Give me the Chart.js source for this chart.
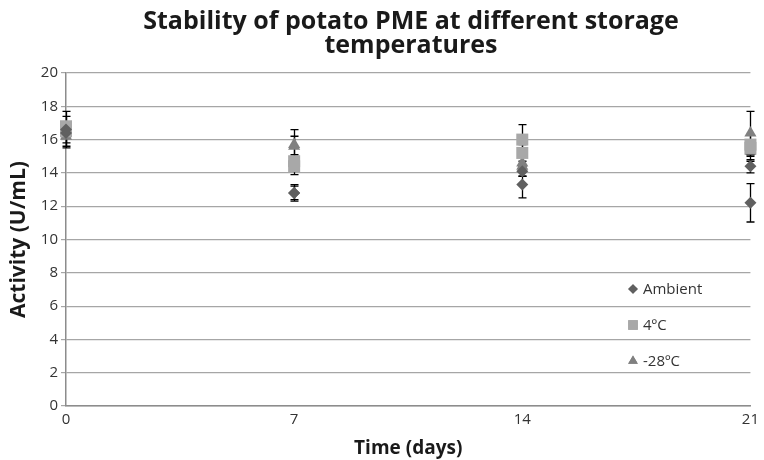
<!DOCTYPE html>
<html>
<head>
<meta charset="utf-8">
<script src="https://cdn.jsdelivr.net/npm/chart.js@4.4.0/dist/chart.umd.min.js"></script>
<style>
  html, body { margin: 0; padding: 0; background: #fff; }
  #wrap { width: 764px; height: 460px; }
</style>
</head>
<body>
<div id="wrap"><canvas id="chart" width="764" height="460"></canvas></div>
<script>
// Days of storage
const days = [0, 7, 14, 21];

// Two replicate series per storage temperature, with error (+/-)
const ambientA = [16.4, 12.8, 13.3, 12.2];
const ambientErrA = [0.6, 0.5, 0.8, 1.15];
const ambientB = [16.6, 12.8, 14.1, 14.4];
const ambientErrB = [0.4, 0.4, 0.3, 0.4];

const fridgeA = [16.8, 14.4, 16.0, 15.7];
const fridgeErrA = [0.6, 0.5, 0.9, 0.6];
const fridgeB = [16.5, 14.7, 15.2, 15.5];
const fridgeErrB = [0.4, 0.4, 0.5, 0.5];

const freezerA = [16.6, 15.7, 14.4, 16.4];
const freezerErrA = [1.1, 0.9, 0.6, 1.3];
const freezerB = [16.2, 15.6, 14.6, 15.3];
const freezerErrB = [0.6, 0.6, 0.5, 0.6];

const yTicks = [0, 2, 4, 6, 8, 10, 12, 14, 16, 18, 20];

const FONT = "'Open Sans', 'DejaVu Sans', sans-serif";

function pts(vals, errs) {
    return days.map((d, i) => ({ x: d, y: vals[i], err: errs[i] }));
}

function makeSet(label, vals, errs, style, color, radius, inLegend) {
    return {
        label: label,
        data: pts(vals, errs),
        showLine: false,
        pointStyle: style,
        pointRadius: radius,
        pointHoverRadius: radius,
        pointBackgroundColor: color,
        pointBorderColor: color,
        pointBorderWidth: 0,
        clip: false,
        inLegend: inLegend
    };
}

const datasets = [
    makeSet('Ambient', ambientA, ambientErrA, 'rectRot', '#606060', 6, true),
    makeSet('Ambient', ambientB, ambientErrB, 'rectRot', '#606060', 6, false),
    makeSet('4ºC', fridgeA, fridgeErrA, 'rect', '#a8a8a8', 8.5, true),
    makeSet('4ºC', fridgeB, fridgeErrB, 'rect', '#a8a8a8', 8.5, false),
    makeSet('-28ºC', freezerA, freezerErrA, 'triangle', '#808080', 7, true),
    makeSet('-28ºC', freezerB, freezerErrB, 'triangle', '#808080', 7, false)
];

// Error bars drawn under the markers
const errorBars = {
    id: 'errorBars',
    beforeDatasetsDraw(chart) {
        const ctx = chart.ctx;
        const xs = chart.scales.x, ys = chart.scales.y;
        ctx.save();
        ctx.strokeStyle = '#000';
        ctx.lineWidth = 1.3;
        chart.data.datasets.forEach(ds => {
            ds.data.forEach(p => {
                const x = Math.round(xs.getPixelForValue(p.x)) + 0.5;
                const top = ys.getPixelForValue(p.y + p.err);
                const bot = ys.getPixelForValue(p.y - p.err);
                ctx.beginPath();
                ctx.moveTo(x, top); ctx.lineTo(x, bot);
                ctx.moveTo(x - 4, top); ctx.lineTo(x + 4, top);
                ctx.moveTo(x - 4, bot); ctx.lineTo(x + 4, bot);
                ctx.stroke();
            });
        });
        ctx.restore();
    }
};

// Title and in-plot legend
const decorations = {
    id: 'decorations',
    afterDraw(chart) {
        const ctx = chart.ctx;
        ctx.save();
        ctx.fillStyle = '#1a1a1a';
        ctx.textAlign = 'center';
        ctx.textBaseline = 'middle';
        ctx.font = 'bold 25px ' + FONT;
        ctx.fillText('Stability of potato PME at different storage', 411, 22);
        ctx.fillText('temperatures', 411, 46);

        const items = chart.data.datasets.filter(d => d.inLegend);
        const lx = 633, ly = [289, 325, 361];
        ctx.textAlign = 'left';
        ctx.font = '15px ' + FONT;
        items.forEach((ds, i) => {
            ctx.fillStyle = ds.pointBackgroundColor;
            Chart.helpers.drawPoint(ctx, {
                pointStyle: ds.pointStyle,
                radius: ds.pointRadius * 0.8,
                borderWidth: 0
            }, lx, ly[i]);
            ctx.fill();
            ctx.fillStyle = '#333';
            ctx.fillText(ds.label, lx + 10, ly[i] + 1);
        });
        ctx.restore();
    }
};

new Chart(document.getElementById('chart'), {
    type: 'scatter',
    data: { datasets: datasets },
    options: {
        responsive: false,
        animation: false,
        layout: { padding: { top: 73, right: 8, left: 0, bottom: 0 } },
        plugins: {
            legend: { display: false },
            title: { display: false },
            tooltip: { enabled: false }
        },
        scales: {
            x: {
                type: 'linear',
                min: 0,
                max: 21,
                afterBuildTicks: axis => { axis.ticks = days.map(v => ({ value: v })); },
                afterFit: axis => { axis.height = 54; },
                grid: { display: false, drawTicks: false },
                border: { color: '#8c8c8c', width: 1.5 },
                ticks: { color: '#333', font: { family: FONT, size: 15 }, padding: 5 },
                title: {
                    display: true,
                    text: 'Time (days)',
                    color: '#1a1a1a',
                    font: { family: FONT, size: 19, weight: 'bold' },
                    padding: { top: 8, bottom: 0 }
                }
            },
            y: {
                min: 0,
                max: 20,
                afterBuildTicks: axis => { axis.ticks = yTicks.map(v => ({ value: v })); },
                afterFit: axis => { axis.width = 66; },
                grid: { color: '#a6a6a6', lineWidth: 1.2, tickLength: 5 },
                border: { color: '#8c8c8c', width: 1.5 },
                ticks: { color: '#333', font: { family: FONT, size: 15 }, padding: 3 },
                title: {
                    display: true,
                    text: 'Activity (U/mL)',
                    color: '#1a1a1a',
                    font: { family: FONT, size: 21, weight: 'bold' },
                    padding: { top: 6, bottom: 0 }
                }
            }
        }
    },
    plugins: [errorBars, decorations]
});
</script>
</body>
</html>
